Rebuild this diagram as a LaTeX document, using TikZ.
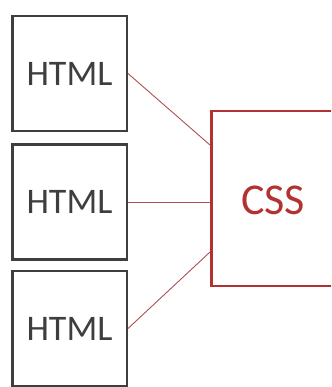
\documentclass[tikz,border=0pt]{standalone}
\usepackage{fontspec}
\setmainfont{Carlito}
\definecolor{cssred}{RGB}{178,50,50}
\definecolor{linkred}{RGB}{170,80,80}
\definecolor{boxgray}{RGB}{62,62,62}
\tikzset{%
	block/.style  = {draw=boxgray, line width=2.5pt, rectangle, inner sep=0pt,
		minimum width=114.5pt, minimum height=115pt, text=boxgray,
		font=\fontsize{36}{40}\selectfont},
	sheet/.style  = {draw=cssred, line width=2.5pt, rectangle, inner sep=0pt,
		minimum width=160pt, minimum height=174.5pt},
	sheettext/.style = {text=cssred, font=\fontsize{44}{48}\selectfont},
	link/.style   = {draw=linkred, line width=0.9pt}
}

\begin{document}
\begin{tikzpicture}[x=1pt,y=-1pt]
			\useasboundingbox (0,0) rectangle (331,387);
			\clip (0,0) rectangle (331,387);

			\node[block] (html1) at (69.5,73.5) {HTML};
			\node[block] (html2) at (69.5,202) {HTML};
			\node[block] (html3) at (69.5,328.5) {HTML};
			% the style sheet runs off the right edge
			\node[sheet] (css) at (291.25,198.5) {};
			\node[sheettext] (csstext) at (273,200) {CSS};

			\draw[link] (html1.east) -- ([yshift=53.5pt]css.west);
			\draw[link] (html2.east) -- (html2.east -| css.west);
			\draw[link] (html3.east) -- ([yshift=-53.5pt]css.west);
		\end{tikzpicture}
\end{document}
